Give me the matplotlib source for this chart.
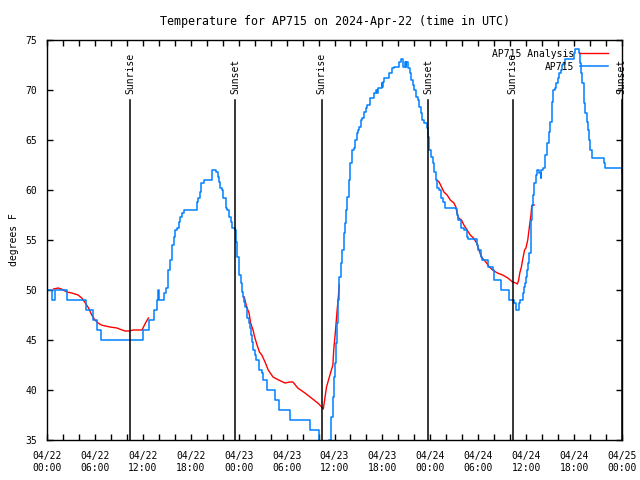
import numpy as np
import matplotlib
matplotlib.use("Agg")
import matplotlib.pyplot as plt
import matplotlib.dates as mdates
from datetime import datetime, timedelta

# hours since 2024-04-22 00:00 UTC
obs_hours = [0.0, 0.6, 1.0, 2.55, 4.9, 5.7, 6.3, 6.7, 12.0, 12.8, 13.4, 13.8, 13.9, 14.0,
             14.7, 14.9, 15.1, 15.2, 15.35, 15.6, 15.7, 15.85, 16.0, 16.3, 16.5, 16.7, 16.9,
             17.1, 18.8, 18.9, 19.1, 19.3, 19.6, 20.7, 21.1, 21.2, 21.4, 21.5, 21.6, 21.9,
             22.1, 22.4, 22.6, 22.8, 23.0, 23.2, 23.6, 23.7, 23.8, 24.0, 24.1, 24.3, 24.4,
             24.55, 24.7, 24.8, 25.0, 25.1, 25.3, 25.4, 25.6, 25.7, 25.8, 26.1, 26.2, 26.5,
             26.6, 26.9, 27.1, 27.6, 28.6, 29.1, 30.4, 32.9, 34.1, 35.3, 35.5, 35.6, 35.8,
             35.9, 36.05, 36.2, 36.35, 36.5, 36.6, 36.8, 37.0, 37.2, 37.3, 37.4, 37.6, 37.8,
             38.0, 38.2, 38.4, 38.6, 38.8, 38.9, 39.1, 39.3, 39.5, 39.7, 39.9, 40.1, 40.4,
             40.9, 41.2, 41.3, 41.4, 41.9, 42.0, 42.1, 42.2, 42.8, 43.25, 43.45, 44.1, 44.3,
             44.6, 44.8, 44.9, 45.0, 45.2, 45.4, 45.55, 45.8, 45.96, 46.2, 46.4, 46.6, 46.8,
             47.0, 47.2, 47.55, 47.7, 47.85, 48.05, 48.3, 48.5, 48.7, 48.8, 49.1, 49.3, 49.6,
             49.8, 51.2, 51.3, 51.5, 51.9, 52.2, 52.6, 52.7, 53.8, 54.0, 54.3, 54.5, 55.2,
             55.8, 56.0, 56.9, 57.9, 58.5, 58.7, 59.06, 59.2, 59.6, 59.7, 59.85, 59.97, 60.1,
             60.2, 60.4, 60.55, 60.7, 60.85, 61.0, 61.2, 61.4, 61.6, 61.8, 61.9, 62.1, 62.3,
             62.4, 62.6, 62.8, 63.0, 63.2, 63.4, 63.65, 63.7, 63.95, 64.1, 64.3, 64.45, 64.6,
             64.8, 65.96, 66.1, 66.6, 66.75, 66.9, 67.0, 67.2, 67.3, 67.4, 67.6, 67.7, 67.9,
             68.0, 68.2, 69.6, 69.7, 69.9, 71.8, 72.0]
obs_temp = [50, 49, 50, 49, 48, 47, 46, 45, 46, 47, 48, 49, 50, 49,
            49.7, 50.2, 50.8, 52, 53, 53.5, 54.5, 55.3, 56, 56.2, 56.8, 57.3, 57.7,
            58, 58.8, 59.2, 59.8, 60.7, 61, 62, 62, 61.8, 61.3, 60.8, 60.2, 60,
            59.2, 58.2, 58, 57.3, 56.8, 56.2, 56, 54.8, 53.3, 52.3, 51.5, 50.7, 49.8,
            49.3, 48.8, 48.3, 47.8, 47.2, 46.7, 46.2, 45.5, 44.8, 44, 43.5, 43, 42.5,
            42, 41.7, 41, 40, 39, 38, 37, 36, 34, 35, 36.3, 37.3, 39.3,
            41.3, 42.7, 44.7, 46.7, 49, 51.3, 52.7, 54, 55.7, 56.7, 58, 59.3, 61,
            62.7, 64, 64.2, 65, 65.7, 66, 66.3, 67, 67.2, 67.8, 68.2, 68.5, 69.2,
            69.7, 70, 69.7, 70.2, 70.7, 70.3, 70.8, 71.2, 71.7, 72.2, 72.3, 72.8, 73.1,
            72.3, 72.8, 72.3, 72.8, 72.2, 71.7, 71, 70.5, 70, 69.3, 69, 68.3, 67.7,
            67, 66.7, 66.2, 65.3, 64, 63.3, 62.7, 61.8, 61, 60.2, 60, 59.2, 58.8,
            58.2, 58.1, 57.5, 57, 56.2, 56, 55.3, 55.1, 54.5, 54, 53.3, 53, 52.3,
            52, 51, 50, 49, 48.7, 48, 48.7, 49, 49.7, 50.3, 50.7, 51.3, 52,
            52.7, 53.7, 57, 58.5, 59.5, 60.7, 61.5, 62, 61.7, 61.2, 62, 62.2, 62.7,
            63.5, 64.7, 65.8, 66.8, 68.8, 70, 70.2, 70.7, 71.2, 71.7, 72, 72.5, 72.6,
            73.1, 73.7, 74.1, 73.7, 72.7, 71.7, 70.7, 69.7, 68.7, 67.7, 66.8, 66, 65,
            64, 63.2, 63.2, 62.7, 62.2, 62.2, 61.7]

# analysis, NaN marks the gaps between runs
ana_hours = [0.8, 1.4, 1.8, 2.5, 3.1, 3.5, 3.9, 4.35, 4.8, 5.2, 5.6, 6.0, 6.4, 6.8, 7.3,
             7.9, 8.75, 9.4, 9.8, 10.2, 10.8, 11.7, 11.9, 12.2, 12.4, 12.7, 12.8,
             24.7, 25.0, 25.3, 25.5, 25.8, 26.0, 26.3, 26.6, 26.9, 27.3, 27.7, 28.3, 29.0,
             29.8, 30.4, 30.8, 31.4, 32.3, 33.1, 33.9, 34.4, 34.6, 34.8, 35.0, 35.5, 35.8,
             35.9, 36.1, 36.3, 36.5, 36.6, 36.7,
             48.8, 49.1, 49.4, 49.7, 50.1, 50.5, 50.95, 51.2, 51.35, 51.55, 51.9, 52.2,
             52.6, 53.0, 53.4, 53.8, 54.1, 54.3, 54.5, 54.95, 55.4, 55.8, 56.4, 57.05,
             57.7, 58.3, 58.7, 58.9, 59.06, 59.2, 59.4, 59.6, 59.8, 59.97, 60.2, 60.4,
             60.6, 60.7, 61.0]
ana_temp = [50.1, 50.2, 50.1, 49.8, 49.7, 49.6, 49.5, 49.2, 48.7, 48.2, 47.5, 47, 46.7, 46.5, 46.4,
            46.3, 46.2, 46.0, 45.9, 45.9, 46.0, 46.0, 46.0, 46.5, 46.8, 47.2, np.nan,
            49.3, 48.3, 47.7, 46.7, 46.0, 45.3, 44.5, 43.8, 43.5, 42.8, 42, 41.3, 41,
            40.7, 40.8, 40.8, 40.2, 39.7, 39.2, 38.7, 38.3, 38.1, 39.2, 40.3, 41.7, 42.5,
            44, 45.7, 47.7, 49.5, 50.5, np.nan,
            61, 60.8, 60.3, 59.8, 59.5, 59, 58.7, 58.3, 57.7, 57.2, 57, 56.5,
            56, 55.5, 55.2, 54.7, 54, 53.5, 53.2, 52.8, 52.3, 52, 51.7, 51.5,
            51.2, 50.8, 50.7, 50.6, 51, 51.7, 52.3, 53.2, 54, 54.2, 55, 56.3,
            57.5, 58.4, 58.5]

sun_hours = [10.4, 23.6, 34.4, 47.7, 58.3, 71.95]
sun_labels = ["Sunrise", "Sunset", "Sunrise", "Sunset", "Sunrise", "Sunset"]

start = datetime(2024, 4, 22)


def to_dates(hours):
    return [start + timedelta(hours=h) for h in hours]


plt.rcParams["font.family"] = "DejaVu Sans Mono"
plt.rcParams["font.size"] = 7

fig = plt.figure(figsize=(6.4, 4.8), dpi=100)
ax = fig.add_axes([47 / 640, 40 / 480, 575 / 640, 400 / 480])

ax.plot(to_dates(ana_hours), ana_temp, color="#ff0000", lw=1.0, label="AP715 Analysis")
ax.plot(to_dates(obs_hours), obs_temp, color="#0080ff", lw=1.1, label="AP715",
        drawstyle="steps-post")

# sunrise / sunset markers
for h, lab in zip(sun_hours, sun_labels):
    d = start + timedelta(hours=h)
    ax.plot([d, d], [35, 69.0], color="black", lw=1.1)
    ax.text(d, 69.6, lab, rotation=90, ha="center", va="bottom")

ax.set_xlim(start, start + timedelta(hours=72))
ax.set_ylim(35, 75)
ax.set_yticks(np.arange(35, 76, 5))
ax.xaxis.set_major_locator(mdates.HourLocator(byhour=range(0, 24, 6)))
ax.xaxis.set_minor_locator(mdates.HourLocator(byhour=range(0, 24, 2)))
ax.xaxis.set_major_formatter(mdates.DateFormatter("%m/%d\n%H:%M"))
ax.tick_params(which="both", direction="in", top=True, right=True, length=4, width=1)
ax.tick_params(axis="x", pad=8)
ax.tick_params(axis="y", pad=7)
for s in ax.spines.values():
    s.set_linewidth(1.0)

ax.set_ylabel("degrees F", labelpad=5)
ax.set_title("Temperature for AP715 on 2024-Apr-22 (time in UTC)", pad=11)

leg = ax.legend(loc="upper right", frameon=False, markerfirst=False, handlelength=2.9,
                handletextpad=0.6, labelspacing=0.3, borderpad=0.0,
                bbox_to_anchor=(1 - 9 / 575, 1 - 4 / 400))
for t in leg.get_texts():
    t.set_ha("right")

fig.savefig("out.png", dpi=100)
